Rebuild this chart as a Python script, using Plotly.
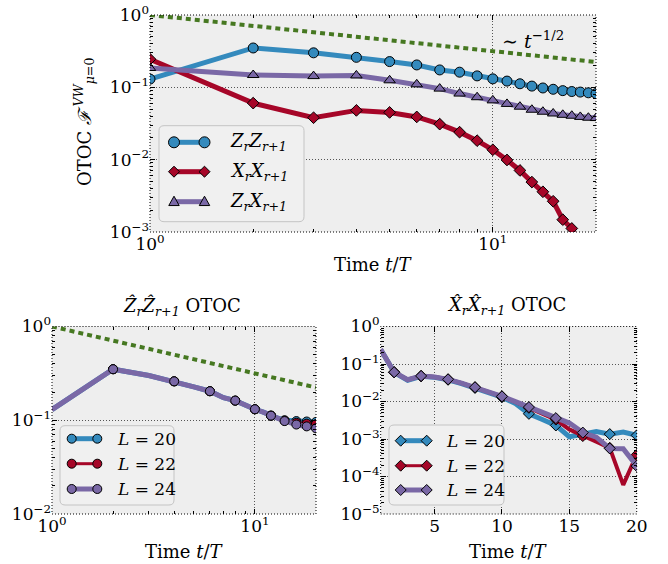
import math
import plotly.graph_objects as go

W, H = 668, 564

# ---------------- data ----------------
t = list(range(1, 21))

# top panel (L = 24)
zz_L24 = [0.13, 0.35, 0.30, 0.26, 0.227, 0.204, 0.174, 0.162, 0.144, 0.131,
          0.122, 0.112, 0.104, 0.098, 0.094, 0.090, 0.0875, 0.086, 0.084, 0.082]
xx_L24 = [0.245, 0.0605, 0.038, 0.048, 0.045, 0.039, 0.031, 0.024, 0.0183, 0.0137,
          0.0099, 0.0071, 0.0049, 0.0036, 0.00266, 0.00148, 0.00112, 0.00056, 0.00055, 0.00019]
zx_L24 = [0.185, 0.148, 0.143, 0.146, 0.125, 0.110, 0.096, 0.082, 0.073, 0.066,
          0.059, 0.054, 0.049, 0.046, 0.0435, 0.0417, 0.0405, 0.039, 0.038, 0.0376]

# bottom-left, other system sizes
zz_L20 = [0.13, 0.35, 0.30, 0.26, 0.227, 0.204, 0.174, 0.162, 0.144, 0.131,
          0.122, 0.112, 0.105, 0.100, 0.099, 0.098, 0.097, 0.097, 0.096, 0.096]
zz_L22 = [0.13, 0.35, 0.30, 0.26, 0.227, 0.204, 0.174, 0.162, 0.144, 0.131,
          0.122, 0.112, 0.104, 0.099, 0.096, 0.094, 0.093, 0.092, 0.092, 0.091]

# bottom-right, other system sizes
xx_L20 = [0.245, 0.0600, 0.037, 0.047, 0.044, 0.038, 0.030, 0.023, 0.0175, 0.0130,
          0.0088, 0.0047, 0.0033, 0.0023, 0.00115, 0.00137, 0.00158, 0.00135, 0.00153, 0.00125]
xx_L22 = [0.245, 0.0605, 0.038, 0.048, 0.045, 0.039, 0.031, 0.024, 0.0183, 0.0137,
          0.0097, 0.0068, 0.0046, 0.0033, 0.0018, 0.0012, 0.00085, 0.00058, 0.00006, 0.00038]

# t^{-1/2} guide
guide_t = [1, 20]
guide_v = [1.0, 0.2236]

BLUE, RED, PURPLE, GREEN = "#348ABD", "#A60628", "#7A68A6", "#467821"
FONT = "DejaVu Serif"

fig = go.Figure()

# ---------- top panel ----------
fig.add_trace(go.Scatter(x=guide_t, y=guide_v, mode="lines",
                         line=dict(color=GREEN, width=4, dash="5px,4px"),
                         xaxis="x", yaxis="y", showlegend=False))
for vals, col, sym, sz in [(zz_L24, BLUE, "circle", 10),
                           (xx_L24, RED, "diamond", 9),
                           (zx_L24, PURPLE, "triangle-up", 10)]:
    fig.add_trace(go.Scatter(x=t, y=vals, mode="lines+markers",
                             line=dict(color=col, width=5),
                             marker=dict(symbol=sym, size=sz, color=col,
                                         line=dict(color="black", width=1)),
                             xaxis="x", yaxis="y", showlegend=False))

# ---------- bottom-left ----------
fig.add_trace(go.Scatter(x=guide_t, y=guide_v, mode="lines",
                         line=dict(color=GREEN, width=4, dash="5px,4px"),
                         xaxis="x2", yaxis="y2", showlegend=False))
for vals, col, lw in [(zz_L20, BLUE, 5), (zz_L22, RED, 3), (zz_L24, PURPLE, 5)]:
    fig.add_trace(go.Scatter(x=t, y=vals, mode="lines", line=dict(color=col, width=lw),
                             xaxis="x2", yaxis="y2", showlegend=False))
    fig.add_trace(go.Scatter(x=t[1::2], y=vals[1::2], mode="markers",
                             marker=dict(symbol="circle", size=9, color=col,
                                         line=dict(color="black", width=1)),
                             xaxis="x2", yaxis="y2", showlegend=False))

# ---------- bottom-right ----------
for vals, col, lw in [(xx_L20, BLUE, 5), (xx_L22, RED, 4), (xx_L24, PURPLE, 5)]:
    fig.add_trace(go.Scatter(x=t, y=vals, mode="lines", line=dict(color=col, width=lw),
                             xaxis="x3", yaxis="y3", showlegend=False))
    fig.add_trace(go.Scatter(x=t[1::2], y=vals[1::2], mode="markers",
                             marker=dict(symbol="diamond", size=8.5, color=col,
                                         line=dict(color="black", width=1)),
                             xaxis="x3", yaxis="y3", showlegend=False))


def px(x):
    return x / W


def py(y):
    return 1 - y / H


def sup_label(e):
    s = str(e).replace("-", "\u2212")
    return "10<sup>" + s + "</sup>"


def log_ticks(e0, e1):
    vals = [10.0 ** e for e in range(e0, e1 + 1)]
    text = [sup_label(e) for e in range(e0, e1 + 1)]
    minor = [m * 10.0 ** e for e in range(e0, e1) for m in range(2, 10)]
    return vals, text, minor


tickfont = dict(family=FONT, size=17, color="black")
common = dict(ticks="inside", ticklen=5, tickwidth=1, tickcolor="black",
              mirror="ticks", showline=False, zeroline=False, automargin=False,
              showgrid=True, gridcolor="#555555", gridwidth=1, griddash="1px,2px",
              tickfont=tickfont)


def minor_dict(vals):
    return dict(tickvals=vals, ticks="inside", ticklen=3, tickwidth=1,
                tickcolor="black", showgrid=False)


top_dom_x = [px(150), px(596)]
top_dom_y = [py(232), py(15)]
bl_dom_x = [px(52), px(316)]
br_dom_x = [px(380.7), px(636.7)]
bot_dom_y = [py(514), py(326.5)]

xv, xt, xm = log_ticks(0, 1)
xm = [v for v in xm if v <= 20] + [20]
yv, yt, ym = log_ticks(-3, 0)
yv2, yt2, ym2 = log_ticks(-2, 0)
yv3, yt3, ym3 = log_ticks(-5, 0)

fig.update_layout(
    width=W, height=H, margin=dict(l=0, r=0, t=0, b=0, autoexpand=False),
    paper_bgcolor="white", plot_bgcolor="#eeeeee",
    font=dict(family=FONT, size=17, color="black"),
    xaxis=dict(type="log", range=[0, math.log10(20)], domain=top_dom_x, anchor="y",
               tickvals=xv, ticktext=xt, minor=minor_dict(xm), **common),
    yaxis=dict(type="log", range=[-3, 0], domain=top_dom_y, anchor="x",
               tickvals=yv, ticktext=yt, minor=minor_dict(ym), **common),
    xaxis2=dict(type="log", range=[0, math.log10(20)], domain=bl_dom_x, anchor="y2",
                tickvals=xv, ticktext=xt, minor=minor_dict(xm), **common),
    yaxis2=dict(type="log", range=[-2, 0], domain=bot_dom_y, anchor="x2",
                tickvals=yv2, ticktext=yt2, minor=minor_dict(ym2), **common),
    xaxis3=dict(type="linear", range=[1, 20], domain=br_dom_x, anchor="y3",
                tickvals=[5, 10, 15, 20], ticktext=["5", "10", "15", "20"], **common),
    yaxis3=dict(type="log", range=[-5, 0], domain=bot_dom_y, anchor="x3",
                tickvals=yv3, ticktext=yt3, minor=minor_dict(ym3), **common),
)

shapes = []
annotations = []

# dotted frames
for xr, yr in [("x", "y"), ("x2", "y2"), ("x3", "y3")]:
    shapes.append(dict(type="rect", xref=xr + " domain", yref=yr + " domain",
                       x0=0, x1=1, y0=0, y1=1, layer="above",
                       line=dict(color="black", width=1, dash="1px,2px")))


def rounded_box(x0, y0, x1, y1, r=5):
    rx, ry = r / W, r / H
    X0, X1, Y0, Y1 = px(x0), px(x1), py(y0), py(y1)
    p = (f"M {X0+rx:.5f},{Y0:.5f} L {X1-rx:.5f},{Y0:.5f} Q {X1:.5f},{Y0:.5f} {X1:.5f},{Y0-ry:.5f} "
         f"L {X1:.5f},{Y1+ry:.5f} Q {X1:.5f},{Y1:.5f} {X1-rx:.5f},{Y1:.5f} "
         f"L {X0+rx:.5f},{Y1:.5f} Q {X0:.5f},{Y1:.5f} {X0:.5f},{Y1+ry:.5f} "
         f"L {X0:.5f},{Y0-ry:.5f} Q {X0:.5f},{Y0:.5f} {X0+rx:.5f},{Y0:.5f} Z")
    return dict(type="path", path=p, xref="paper", yref="paper", layer="above",
                fillcolor="#f0f0f0", line=dict(color="#c4c4c4", width=1))


def marker_shape(sym, cx, cy, r, col):
    if sym == "circle":
        return dict(type="circle", xref="paper", yref="paper", layer="above",
                    x0=px(cx - r), x1=px(cx + r), y0=py(cy + r), y1=py(cy - r),
                    fillcolor=col, line=dict(color="black", width=1))
    if sym == "diamond":
        pts = [(cx, cy - r), (cx + r, cy), (cx, cy + r), (cx - r, cy)]
    else:  # triangle
        pts = [(cx, cy - r), (cx + r * 0.95, cy + r * 0.7), (cx - r * 0.95, cy + r * 0.7)]
    p = "M " + " L ".join(f"{px(a):.5f},{py(b):.5f}" for a, b in pts) + " Z"
    return dict(type="path", path=p, xref="paper", yref="paper", layer="above",
                fillcolor=col, line=dict(color="black", width=1))


def add_legend(box, rows, mxs, text_x, items, r, fsize):
    shapes.append(rounded_box(*box))
    for (label, col, sym, lw), yy in zip(items, rows):
        shapes.append(dict(type="line", xref="paper", yref="paper", layer="above",
                           x0=px(mxs[0]), x1=px(mxs[1]), y0=py(yy), y1=py(yy),
                           line=dict(color=col, width=lw)))
        for mx in mxs:
            shapes.append(marker_shape(sym, mx, yy, r, col))
        annotations.append(dict(text=label, x=px(text_x), y=py(yy), xref="paper", yref="paper",
                                xanchor="left", yanchor="middle", showarrow=False,
                                font=dict(family=FONT, size=fsize, color="black")))


add_legend((159, 125.7, 304, 221.7), [142.3, 171.7, 201.7], (174, 204.5), 228,
           [("<i>Z<sub>r</sub>Z<sub>r+1</sub></i>", BLUE, "circle", 5),
            ("<i>X<sub>r</sub>X<sub>r+1</sub></i>", RED, "diamond", 5),
            ("<i>Z<sub>r</sub>X<sub>r+1</sub></i>", PURPLE, "triangle", 5)], 5.5, 18)

add_legend((60, 425.7, 174, 505), [438.7, 463.7, 489], (71.7, 97.3), 115,
           [("<i>L</i> = 20", BLUE, "circle", 5),
            ("<i>L</i> = 22", RED, "circle", 3),
            ("<i>L</i> = 24", PURPLE, "circle", 5)], 4.5, 17)

add_legend((389, 425, 504, 505), [440.7, 465.7, 490], (400.7, 426.7), 444,
           [("<i>L</i> = 20", BLUE, "diamond", 5),
            ("<i>L</i> = 22", RED, "diamond", 3),
            ("<i>L</i> = 24", PURPLE, "diamond", 5)], 5.5, 17)


def text_px(txt, x, y, size, angle=0, xanchor="center"):
    annotations.append(dict(text=txt, x=px(x), y=py(y), xref="paper", yref="paper",
                            xanchor=xanchor, yanchor="middle", showarrow=False, textangle=angle,
                            font=dict(family=FONT, size=size, color="black")))


text_px("\u223c <i>t</i><sup>\u22121/2</sup>", 500, 40, 19, xanchor="left")
text_px("OTOC <i>\u2131</i>\u2009<sup><i>VW</i></sup><sub><i>\u03bc</i>=0</sub>", 84, 122, 18, angle=-90)
text_px("Time <i>t</i>/<i>T</i>", 373, 264, 18)
text_px("Time <i>t</i>/<i>T</i>", 184, 551, 18)
text_px("Time <i>t</i>/<i>T</i>", 508, 551, 18)
text_px("<i>\u1e90<sub>r</sub>\u1e90<sub>r+1</sub></i> OTOC", 182, 306, 18)
text_px("<i>X\u0302<sub>r</sub>X\u0302<sub>r+1</sub></i> OTOC", 506, 306, 18)

fig.update_layout(shapes=shapes, annotations=annotations)
fig.write_html("out.html", config={"displayModeBar": False},
               post_script="document.body.style.margin='0px';document.body.style.overflow='hidden';")
